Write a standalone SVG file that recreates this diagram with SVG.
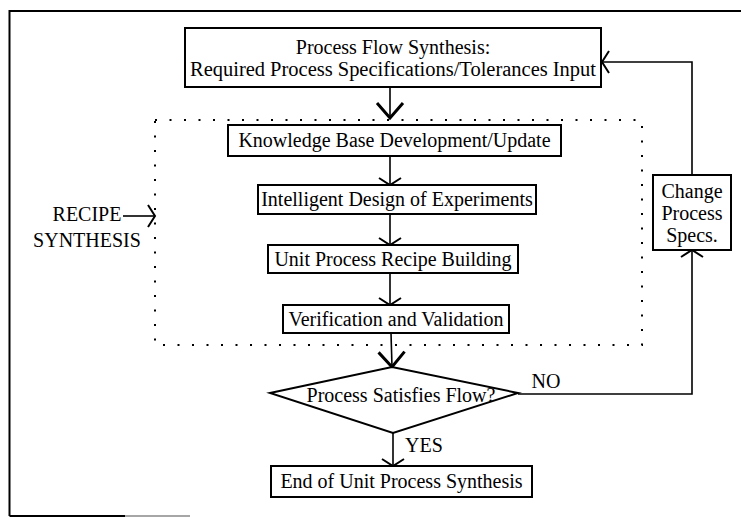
<svg xmlns="http://www.w3.org/2000/svg" width="741" height="518" viewBox="0 0 741 518">
<style>
.box{fill:#fff;stroke:#000;stroke-width:2}
.t{font-family:"Liberation Serif","Times New Roman",serif;font-size:20px;fill:#000;text-anchor:middle}
.ln{fill:none;stroke:#000;stroke-width:1.6}
.dot{fill:none;stroke:#000;stroke-width:2;stroke-dasharray:2 12.5}
</style>
<defs>
<marker id="ah" viewBox="-12 -14 14 28" refX="0" refY="0" markerWidth="14" markerHeight="28" orient="auto" markerUnits="userSpaceOnUse" overflow="visible">
<path d="M-7,-11 L0,0 L-7,11" fill="none" stroke="#000" stroke-width="2"/>
</marker>
<marker id="ahb" viewBox="-18 -16 20 32" refX="0" refY="0" markerWidth="20" markerHeight="32" orient="auto" markerUnits="userSpaceOnUse" overflow="visible">
<path d="M-15,-13 L0,0 L-15,13" fill="none" stroke="#000" stroke-width="3"/>
</marker>
</defs>
<rect width="741" height="518" fill="#fff"/>
<g id="frame">
<path d="M9.5,516 L9.5,11 L741,11" fill="none" stroke="#000" stroke-width="2"/>
<path d="M9.5,516 L125,516" fill="none" stroke="#000" stroke-width="2"/>
<path d="M125,516 L190,516" fill="none" stroke="#888" stroke-width="1.5"/>
</g>
<g id="recipe-synthesis-region">
<rect x="155" y="120" width="487" height="225" class="dot"/>
</g>
<g id="connectors">
<path class="ln" d="M390,87 L390,118" stroke-width="2.5" marker-end="url(#ahb)"/>
<path class="ln" d="M390,156 L390,185" marker-end="url(#ah)"/>
<path class="ln" d="M390,214 L390,245" marker-end="url(#ah)"/>
<path class="ln" d="M390,273 L390,305" marker-end="url(#ah)"/>
<path class="ln" d="M391,333 L392,367" stroke-width="2.2" marker-end="url(#ahb)"/>
<path class="ln" d="M393,433 L393,466" marker-end="url(#ah)"/>
<path class="ln" d="M518,394 L692,394 L692,250" marker-end="url(#ah)"/>
<path class="ln" d="M692,175 L692,62 L602,62" marker-end="url(#ah)"/>
<path class="ln" d="M123,216 L155,216" stroke-width="2.2" marker-end="url(#ah)"/>
<text class="t" x="546" y="388">NO</text>
<text class="t" x="424" y="452">YES</text>
</g>
<g id="process-flow-synthesis">
<rect class="box" x="185" y="28" width="416" height="59"/>
<text class="t" x="393" y="54">Process Flow Synthesis:</text>
<text class="t" x="393" y="76" textLength="406" lengthAdjust="spacingAndGlyphs">Required Process Specifications/Tolerances Input</text>
</g>
<g id="knowledge-base">
<rect class="box" x="228" y="125" width="333" height="31"/>
<text class="t" x="394.5" y="147">Knowledge Base Development/Update</text>
</g>
<g id="intelligent-doe">
<rect class="box" x="258" y="185" width="278" height="29"/>
<text class="t" x="397" y="206">Intelligent Design of Experiments</text>
</g>
<g id="unit-recipe">
<rect class="box" x="268" y="245" width="250" height="28"/>
<text class="t" x="393" y="266">Unit Process Recipe Building</text>
</g>
<g id="verification">
<rect class="box" x="283" y="305" width="226" height="28"/>
<text class="t" x="396" y="326">Verification and Validation</text>
</g>
<g id="decision">
<polygon class="box" points="270,393 392,367 518,393 393,433"/>
<text class="t" x="401" y="402">Process Satisfies Flow?</text>
</g>
<g id="end">
<rect class="box" x="271" y="466" width="261" height="31"/>
<text class="t" x="401.5" y="488">End of Unit Process Synthesis</text>
</g>
<g id="change-specs">
<rect class="box" x="653" y="175" width="78" height="75"/>
<text class="t" x="692" y="198">Change</text>
<text class="t" x="692" y="220">Process</text>
<text class="t" x="692" y="242">Specs.</text>
</g>
<g id="recipe-label">
<text class="t" x="87" y="221">RECIPE</text>
<text class="t" x="87" y="247">SYNTHESIS</text>
</g>
</svg>
